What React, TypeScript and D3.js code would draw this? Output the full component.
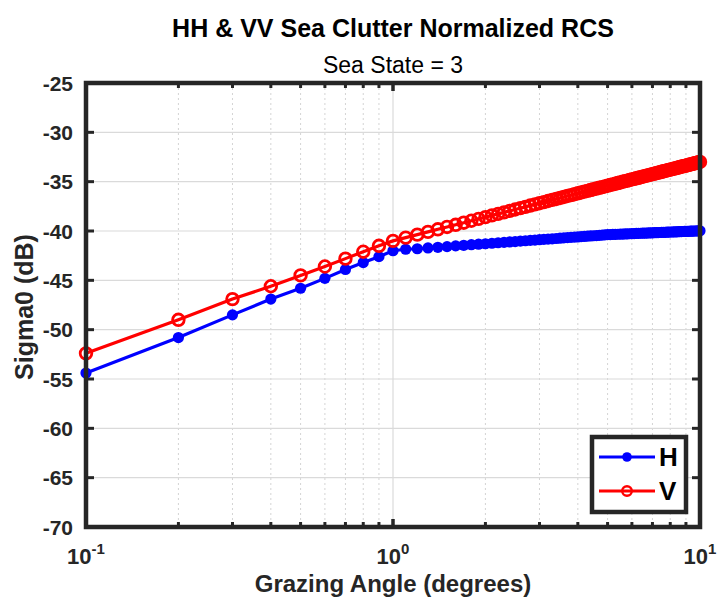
import React from "react";
import * as d3 from "d3";

const angles = [
  0.1, 0.2, 0.3, 0.4, 0.5, 0.6, 0.7, 0.8, 0.9, 1.0,
  1.1, 1.2, 1.3, 1.4, 1.5, 1.6, 1.7, 1.8, 1.9, 2.0,
  2.1, 2.2, 2.3, 2.4, 2.5, 2.6, 2.7, 2.8, 2.9, 3.0,
  3.1, 3.2, 3.3, 3.4, 3.5, 3.6, 3.7, 3.8, 3.9, 4.0,
  4.1, 4.2, 4.3, 4.4, 4.5, 4.6, 4.7, 4.8, 4.9, 5.0,
  5.1, 5.2, 5.3, 5.4, 5.5, 5.6, 5.7, 5.8, 5.9, 6.0,
  6.1, 6.2, 6.3, 6.4, 6.5, 6.6, 6.7, 6.8, 6.9, 7.0,
  7.1, 7.2, 7.3, 7.4, 7.5, 7.6, 7.7, 7.8, 7.9, 8.0,
  8.1, 8.2, 8.3, 8.4, 8.5, 8.6, 8.7, 8.8, 8.9, 9.0,
  9.1, 9.2, 9.3, 9.4, 9.5, 9.6, 9.7, 9.8, 9.9, 10.0,
];

const hValues = [
  -54.4, -50.8, -48.5, -46.9, -45.8, -44.8, -43.9, -43.2, -42.6, -42.0,
  -41.85, -41.8, -41.72, -41.65, -41.58, -41.51, -41.45, -41.39, -41.34, -41.29,
  -41.24, -41.19, -41.15, -41.11, -41.07, -41.03, -40.99, -40.95, -40.92, -40.88,
  -40.85, -40.82, -40.79, -40.76, -40.73, -40.7, -40.67, -40.65, -40.62, -40.6,
  -40.57, -40.55, -40.52, -40.5, -40.48, -40.46, -40.44, -40.41, -40.39, -40.37,
  -40.36, -40.35, -40.34, -40.33, -40.32, -40.31, -40.3, -40.29, -40.28, -40.27,
  -40.26, -40.25, -40.24, -40.23, -40.22, -40.21, -40.21, -40.2, -40.19, -40.18,
  -40.17, -40.16, -40.16, -40.15, -40.14, -40.13, -40.13, -40.12, -40.11, -40.1,
  -40.1, -40.09, -40.08, -40.08, -40.07, -40.06, -40.06, -40.05, -40.04, -40.04,
  -40.03, -40.03, -40.02, -40.01, -40.01, -40.0, -40.0, -39.99, -39.98, -39.98,
];

const vValues = [
  -52.4, -49.0, -46.9, -45.6, -44.5, -43.6, -42.8, -42.1, -41.5, -41.0,
  -40.67, -40.37, -40.09, -39.83, -39.59, -39.37, -39.16, -38.96, -38.77, -38.59,
  -38.42, -38.26, -38.11, -37.96, -37.82, -37.68, -37.55, -37.42, -37.3, -37.18,
  -37.07, -36.96, -36.85, -36.75, -36.65, -36.55, -36.45, -36.36, -36.27, -36.18,
  -36.1, -36.01, -35.93, -35.85, -35.77, -35.7, -35.62, -35.55, -35.48, -35.41,
  -35.34, -35.27, -35.21, -35.14, -35.08, -35.01, -34.95, -34.89, -34.83, -34.77,
  -34.72, -34.66, -34.61, -34.55, -34.5, -34.44, -34.39, -34.34, -34.29, -34.24,
  -34.19, -34.14, -34.09, -34.05, -34.0, -33.95, -33.91, -33.86, -33.82, -33.78,
  -33.73, -33.69, -33.65, -33.61, -33.57, -33.52, -33.48, -33.44, -33.41, -33.37,
  -33.33, -33.29, -33.25, -33.22, -33.18, -33.14, -33.11, -33.07, -33.03, -33.0,
];

const yTicks = [-25, -30, -35, -40, -45, -50, -55, -60, -65, -70];
const xMajorTicks = [0.1, 1, 10];
const xMajorExponents = ["-1", "0", "1"];
const xMinorTicks = [0.2, 0.3, 0.4, 0.5, 0.6, 0.7, 0.8, 0.9, 2, 3, 4, 5, 6, 7, 8, 9];

const titleText = "HH & VV Sea Clutter Normalized RCS";
const subtitleText = "Sea State = 3";
const xLabel = "Grazing Angle (degrees)";
const yLabel = "Sigma0 (dB)";
const seriesNames = ["H", "V"];

const W = 718;
const H = 604;
const L = 86;
const R = 700;
const T = 83;
const B = 527;
const FONT = "'Liberation Sans', Arial, Helvetica, sans-serif";
const AX = "#262626";
const BLUE = "#0000ff";
const RED = "#ff0000";

export default function App() {
  const x = d3.scaleLog().domain([0.1, 10]).range([L, R]);
  const y = d3.scaleLinear().domain([-70, -25]).range([B, T]);

  const line = d3
    .line<number>()
    .x((_, i) => x(angles[i]))
    .y((d) => y(d));

  const hPath = line(hValues) || "";
  const vPath = line(vValues) || "";

  const lgX0 = 592, lgX1 = 686, lgY0 = 437, lgY1 = 512;
  const lgRowH = 457, lgRowV = 491;

  return (
    <svg
      width={W}
      height={H}
      style={{ position: "absolute", left: 0, top: 0, background: "#fff" }}
      fontFamily={FONT}
    >
      <rect x={0} y={0} width={W} height={H} fill="#fff" />

      {/* grid */}
      {xMinorTicks.map((t) => (
        <line
          key={"gm" + t}
          x1={x(t)}
          x2={x(t)}
          y1={T}
          y2={B}
          stroke="#d4d4d4"
          strokeWidth={1}
          strokeDasharray="2,3"
        />
      ))}
      {xMajorTicks.map((t) => (
        <line key={"gx" + t} x1={x(t)} x2={x(t)} y1={T} y2={B} stroke="#dadada" strokeWidth={1.2} />
      ))}
      {yTicks.map((t) => (
        <line key={"gy" + t} x1={L} x2={R} y1={y(t)} y2={y(t)} stroke="#dadada" strokeWidth={1.2} />
      ))}

      {/* ticks */}
      {yTicks.map((t) => (
        <g key={"ty" + t}>
          <line x1={L} x2={L + 8} y1={y(t)} y2={y(t)} stroke={AX} strokeWidth={3} />
          <line x1={R} x2={R - 8} y1={y(t)} y2={y(t)} stroke={AX} strokeWidth={3} />
        </g>
      ))}
      {xMinorTicks.map((t) => (
        <g key={"txm" + t}>
          <line x1={x(t)} x2={x(t)} y1={B} y2={B - 5} stroke={AX} strokeWidth={3} />
          <line x1={x(t)} x2={x(t)} y1={T} y2={T + 5} stroke={AX} strokeWidth={3} />
        </g>
      ))}
      {xMajorTicks.map((t) => (
        <g key={"txM" + t}>
          <line x1={x(t)} x2={x(t)} y1={B} y2={B - 8} stroke={AX} strokeWidth={3.5} />
          <line x1={x(t)} x2={x(t)} y1={T} y2={T + 8} stroke={AX} strokeWidth={3.5} />
        </g>
      ))}

      {/* data H */}
      <path d={hPath} fill="none" stroke={BLUE} strokeWidth={3.2} strokeLinejoin="round" />
      {hValues.map((v, i) => (
        <circle key={"h" + i} cx={x(angles[i])} cy={y(v)} r={5.6} fill={BLUE} />
      ))}
      {/* data V */}
      <path d={vPath} fill="none" stroke={RED} strokeWidth={3.2} strokeLinejoin="round" />
      {vValues.map((v, i) => (
        <circle
          key={"v" + i}
          cx={x(angles[i])}
          cy={y(v)}
          r={5.8}
          fill="none"
          stroke={RED}
          strokeWidth={2.8}
        />
      ))}

      {/* axes box */}
      <rect x={L} y={T} width={R - L} height={B - T} fill="none" stroke={AX} strokeWidth={4.5} />

      {/* y tick labels */}
      {yTicks.map((t) => (
        <text
          key={"ly" + t}
          x={L - 13}
          y={y(t)}
          dy="0.36em"
          textAnchor="end"
          fontSize={21}
          fontWeight="bold"
          fill={AX}
        >
          {t}
        </text>
      ))}

      {/* x tick labels */}
      {xMajorTicks.map((t, i) => (
        <text
          key={"lx" + t}
          x={x(t)}
          y={564}
          textAnchor="middle"
          fontWeight="bold"
          fill={AX}
          fontSize={22}
        >
          10
          <tspan fontSize={15} dy={-10}>
            {xMajorExponents[i]}
          </tspan>
        </text>
      ))}

      {/* labels */}
      <text x={(L + R) / 2} y={592} textAnchor="middle" fontSize={24} fontWeight="bold" fill={AX}>
        {xLabel}
      </text>
      <text
        transform={`translate(33, ${(T + B) / 2 + 2}) rotate(-90)`}
        textAnchor="middle"
        fontSize={25}
        fontWeight="bold"
        fill={AX}
      >
        {yLabel}
      </text>

      {/* title */}
      <text x={(L + R) / 2} y={37} textAnchor="middle" fontSize={25} fontWeight="bold" fill="#000">
        {titleText}
      </text>
      <text x={(L + R) / 2} y={73} textAnchor="middle" fontSize={23} fill="#000">
        {subtitleText}
      </text>

      {/* legend */}
      <rect
        x={lgX0}
        y={lgY0}
        width={lgX1 - lgX0}
        height={lgY1 - lgY0}
        fill="#fff"
        stroke={AX}
        strokeWidth={4.5}
      />
      <line x1={599} x2={655} y1={lgRowH} y2={lgRowH} stroke={BLUE} strokeWidth={3} />
      <circle cx={627} cy={lgRowH} r={4.8} fill={BLUE} />
      <text x={659} y={lgRowH + 9} fontSize={26} fontWeight="bold" fill="#000">
        {seriesNames[0]}
      </text>
      <line x1={599} x2={655} y1={lgRowV} y2={lgRowV} stroke={RED} strokeWidth={3} />
      <circle cx={627} cy={lgRowV} r={4.8} fill="none" stroke={RED} strokeWidth={2.4} />
      <text x={659} y={lgRowV + 9} fontSize={26} fontWeight="bold" fill="#000">
        {seriesNames[1]}
      </text>
    </svg>
  );
}
